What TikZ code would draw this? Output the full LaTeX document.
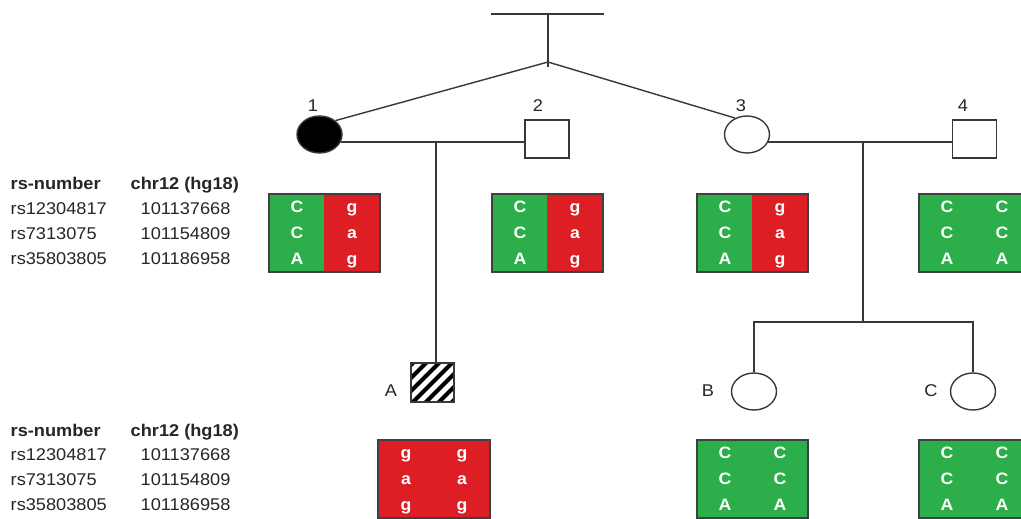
\documentclass[tikz,border=0pt]{standalone}
\usepackage{fontspec}
\setmainfont[FakeStretch=1.07]{Liberation Sans}
\usetikzlibrary{shapes.geometric,calc}
\begin{document}
\begin{tikzpicture}[x=1pt,y=-1pt,
  line width=1.4pt,
  lin/.style={draw=black!78, line width=1.4pt},
  ell/.style={ellipse, draw=black!78, line width=1.4pt, minimum width=45pt, minimum height=37pt, inner sep=0pt},
  sq/.style={rectangle, draw=black!78, line width=1.4pt, minimum width=44pt, minimum height=38pt, inner sep=0pt},
  lbl/.style={font=\fontsize{17}{20}\selectfont, text=black!85, inner sep=0pt, text height=12.2pt, text depth=0pt},
  hdr/.style={font=\fontsize{17}{20}\selectfont\bfseries, text=black!85, inner sep=0pt, anchor=west, text height=12.2pt, text depth=0pt},
  cell/.style={font=\fontsize{16.5}{20}\selectfont\bfseries, text=white, inner sep=0pt, text height=11.8pt, text depth=0pt},
  gbox/.style={draw=black!75, line width=1.2pt}
]
\definecolor{gg}{RGB}{44,174,74}
\definecolor{rr}{RGB}{222,30,37}
\useasboundingbox (0,0) rectangle (1021,519);
\fill[white] (0,0) rectangle (1021,519);

% ---- individuals ----
\node[ell, fill=black] (p1) at (319.5,134.5) {};
\node[sq] (p2) at (547,139) {};
\node[ell] (p3) at (747,134.5) {};
\node[sq] (p4) at (974.5,139) {};
\node[sq, minimum width=43pt, minimum height=39pt] (pA) at (432.5,382.5) {};
\begin{scope}
  \clip (pA.south west) rectangle (pA.north east);
  \foreach \k in {-65,-52,...,65}
    \draw[line width=4pt] ($(pA.center)+(\k-30,30)$) -- ($(pA.center)+(\k+30,-30)$);
\end{scope}
\node[sq, minimum width=43pt, minimum height=39pt] at (pA) {};
\node[ell] (pB) at (754,391.5) {};
\node[ell] (pC) at (973,391.5) {};

\node[lbl] (l1) at (313,105) {1};
\node[lbl] (l2) at (538,105) {2};
\node[lbl] (l3) at (741,105) {3};
\node[lbl] (l4) at (963,105) {4};
\node[lbl] (lA) at (391,390) {A};
\node[lbl] (lB) at (708,390) {B};
\node[lbl] (lC) at (931,390) {C};

% ---- connectors ----
\coordinate (tl) at (491,14);
\coordinate (tr) at (604,14);
\coordinate (tm) at (548,14);
\coordinate (apex) at (548,62);
\coordinate (apexb) at (548,67);
\coordinate (m12) at (436,142);
\coordinate (m34) at (863,142);
\coordinate (sib) at (863,322);

\draw[lin] (tl) -- (tr);
\draw[lin] (tm) -- (apexb);
\draw[lin] (apex) -- (p1.41);
\draw[lin] (apex) -- (p3.126);
\draw[lin] (p1.-20 |- m12) -- (p2.west |- m12);
\draw[lin] (p3.-20 |- m34) -- (p4.west |- m34);
\draw[lin] (m12) -- (m12 |- pA.north);
\draw[lin] (m34) -- (sib);
\draw[lin] (pB.north) -- (pB.north |- sib) -- (pC.north |- sib) -- (pC.north);

% ---- tables ----
\node[hdr] (h1) at (10,183) {rs-number};
\node[hdr] (h2) at (130,183) {chr12 (hg18)};
\node[lbl, anchor=west] (r1) at (10,208) {rs12304817};
\node[lbl, anchor=west] (r2) at (10,233) {rs7313075};
\node[lbl, anchor=west] (r3) at (10,258) {rs35803805};
\node[lbl, anchor=west] (c1) at (140,208) {101137668};
\node[lbl, anchor=west] (c2) at (140,233) {101154809};
\node[lbl, anchor=west] (c3) at (140,258) {101186958};

\node[hdr] (h3) at (10,430) {rs-number};
\node[hdr] (h4) at (130,430) {chr12 (hg18)};
\node[lbl, anchor=west] (r4) at (10,454) {rs12304817};
\node[lbl, anchor=west] (r5) at (10,479) {rs7313075};
\node[lbl, anchor=west] (r6) at (10,504) {rs35803805};
\node[lbl, anchor=west] (c4) at (140,454) {101137668};
\node[lbl, anchor=west] (c5) at (140,479) {101154809};
\node[lbl, anchor=west] (c6) at (140,504) {101186958};

% ---- genotype boxes ----
% box 1
\fill[gg] (269,194) rectangle (324,272);
\fill[rr] (324,194) rectangle (380,272);
\draw[gbox] (269,194) rectangle (380,272);
% box 2
\fill[gg] (492,194) rectangle (547,272);
\fill[rr] (547,194) rectangle (603,272);
\draw[gbox] (492,194) rectangle (603,272);
% box 3
\fill[gg] (697,194) rectangle (752,272);
\fill[rr] (752,194) rectangle (808,272);
\draw[gbox] (697,194) rectangle (808,272);
% box 4
\fill[gg] (919,194) rectangle (1030,272);
\draw[gbox] (919,194) rectangle (1030,272);
% box A
\fill[rr] (378,440) rectangle (490,518);
\draw[gbox] (378,440) rectangle (490,518);
% box B
\fill[gg] (697,440) rectangle (808,518);
\draw[gbox] (697,440) rectangle (808,518);
% box C
\fill[gg] (919,440) rectangle (1030,518);
\draw[gbox] (919,440) rectangle (1030,518);

\foreach \xl/\xr/\y/\a/\b/\c/\d/\e/\f/\n in {
  297/352/233/C/C/A/g/a/g/t1,
  520/575/233/C/C/A/g/a/g/t2,
  725/780/233/C/C/A/g/a/g/t3,
  947/1002/233/C/C/A/C/C/A/t4,
  406/462/479/g/a/g/g/a/g/tA,
  725/780/479/C/C/A/C/C/A/tB,
  947/1002/479/C/C/A/C/C/A/tC}{
  \node[cell] (\n a) at (\xl,\y-26) {\a};
  \node[cell] (\n b) at (\xl,\y) {\b};
  \node[cell] (\n c) at (\xl,\y+26) {\c};
  \node[cell] (\n d) at (\xr,\y-26) {\d};
  \node[cell] (\n e) at (\xr,\y) {\e};
  \node[cell] (\n f) at (\xr,\y+26) {\f};
}
\end{tikzpicture}
\end{document}
